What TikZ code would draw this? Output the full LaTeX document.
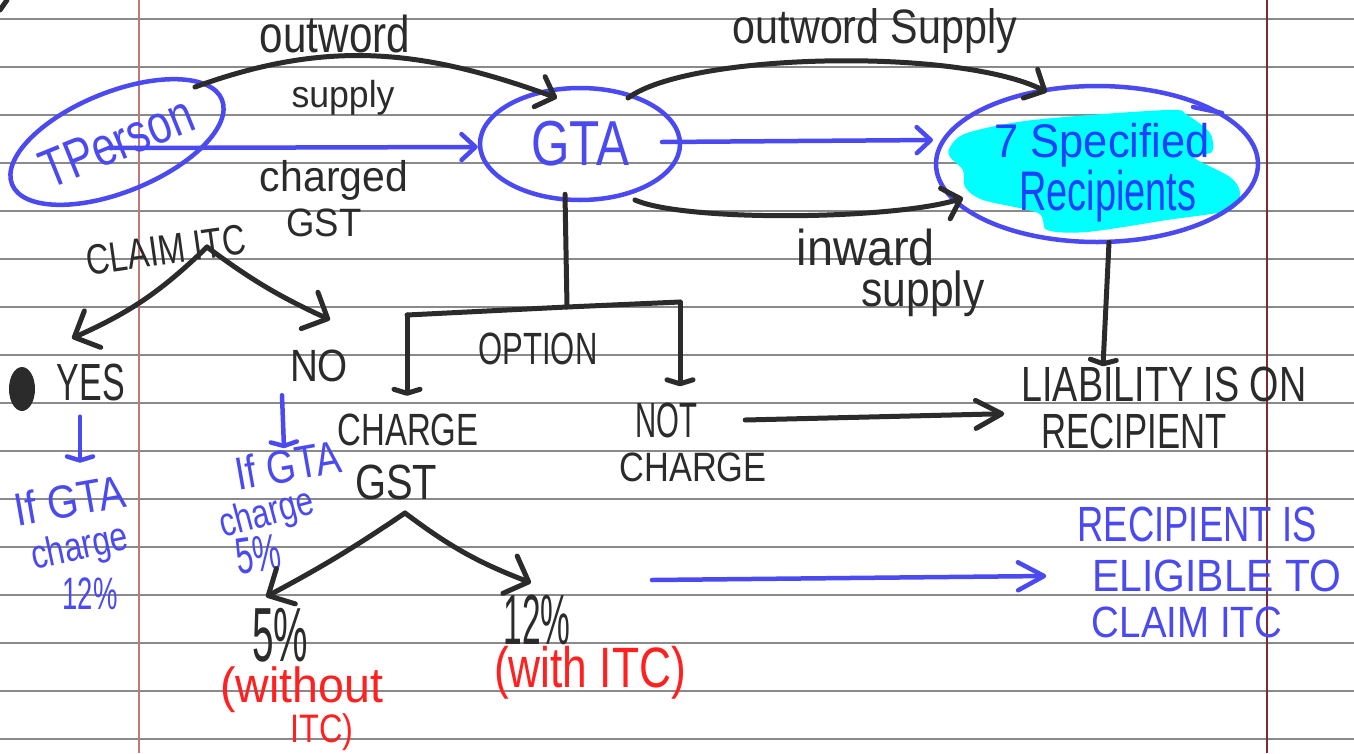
\documentclass[tikz,border=0pt]{standalone}
\usepackage{fontspec}
\setmainfont{Liberation Sans}
\usetikzlibrary{arrows.meta,shapes.geometric,calc}
\definecolor{ink}{HTML}{2B2B2B}
\definecolor{pen}{HTML}{4A4AF0}
\definecolor{deep}{HTML}{1E40FF}
\definecolor{redink}{HTML}{FF2020}
\definecolor{hl}{HTML}{00FFFF}
\definecolor{rulegray}{HTML}{8A8A8A}
\definecolor{marginL}{HTML}{C07878}
\definecolor{marginR}{HTML}{7A2E2E}
% text box stretched to a given width and total height (in pt)
\newcommand{\hw}[3]{\resizebox*{#1pt}{#2pt}{#3}}
\tikzset{
  stroke/.style={line width=5pt, line cap=round, line join=round},
  inkline/.style={stroke, draw=ink},
  penline/.style={stroke, draw=pen, line width=4.5pt},
  barb/.style={-{Straight Barb[round,length=16pt,width=32pt]}},
  bbarb/.style={-{Straight Barb[round,length=14pt,width=26pt]}},
  lbarb/.style={-{Straight Barb[round,length=26pt,width=28pt]}},
  chev/.style={-{Straight Barb[round,length=20pt,width=40pt]}},
  tick/.style={-{Straight Barb[round,length=4pt,width=26pt]}},
  txt/.style={inner sep=0pt, text=ink},
  btxt/.style={inner sep=0pt, text=pen},
  dtxt/.style={inner sep=0pt, text=deep},
  rtxt/.style={inner sep=0pt, text=redink},
  bubble/.style={ellipse, draw=pen, line width=4.5pt, inner sep=0pt}
}
\begin{document}
\begin{tikzpicture}[x=1pt,y=-1pt]
\useasboundingbox (0,0) rectangle (1354,753);
% ruled paper
\fill[white] (0,0) rectangle (1354,753);
\foreach \yy in {19,67,...,739} \draw[rulegray, line width=1.6pt] (0,\yy) -- (1354,\yy);
\draw[marginL, line width=1.5pt] (139,0) -- (139,753);
\draw[marginR, line width=1.8pt] (1267,0) -- (1267,753);
\draw[inkline] (0,10) -- (7,0);

% highlighter behind the recipients
\fill[hl] plot[smooth cycle, tension=0.5] coordinates {
  (950,147) (967,133) (1033,120) (1167,110) (1187,115) (1210,133) (1212,152)
  (1193,157) (1230,177) (1240,193) (1230,210) (1167,220) (1087,232) (1047,230)
  (1038,213) (983,200) (965,187) (963,170) (950,157)};

% main parties
\node[bubble, rotate=22, minimum width=224pt, minimum height=100pt, text=pen] (tp) at (117,142) {\hw{160}{38}{TPerson}};
\node[bubble, minimum width=200pt, minimum height=112pt, text=pen] (gta) at (580,144) {\hw{98}{45}{GTA}};
\node[bubble, minimum width=322pt, minimum height=156pt] (rec) at (1097,164) {};
\draw[penline] (1193,107) -- (1222,113);
\node[dtxt] (recA) at (1102,145) {\hw{215}{44}{7 Specified}};
\node[dtxt] (recB) at (1108,196) {\hw{177}{52}{Recipients}};

% black labels
\node[txt] (outA) at (335,34) {\hw{150}{38}{outword}};
\node[txt] (supA) at (343,98) {\hw{103}{35}{supply}};
\node[txt] (chgd) at (334,180) {\hw{148}{40}{charged}};
\node[txt] (gstA) at (324,223) {\hw{75}{28}{GST}};
\node[txt, rotate=8] (claim) at (166,250) {\hw{160}{30}{CLAIM ITC}};
\node[txt] (yes) at (91,382) {\hw{68}{37}{YES}};
\node[txt] (no) at (319,366) {\hw{58}{32}{NO}};
\node[txt] (chargeL) at (408,430) {\hw{141}{32}{CHARGE}};
\node[txt] (gstC) at (396,482) {\hw{82}{35}{GST}};
\node[txt] (opt) at (538,349) {\hw{119}{32}{OPTION}};
\node[txt] (notn) at (666,420) {\hw{62}{35}{NOT}};
\node[txt] (chargeR) at (693,467) {\hw{147}{29}{CHARGE}};
\node[txt] (liab) at (1164,384) {\hw{285}{35}{LIABILITY IS ON}};
\node[txt] (recp) at (1134,431) {\hw{185}{35}{RECIPIENT}};
\node[txt] (outB) at (875,31) {\hw{284}{45}{outword Supply}};
\node[txt] (inw) at (866,247) {\hw{138}{37}{inward}};
\node[txt] (supB) at (923,294) {\hw{123}{46}{supply}};
\node[txt] (five) at (280,635) {\hw{56}{54}{5\%}};
\node[txt] (twelve) at (537,620) {\hw{67}{50}{12\%}};

% blue notes
\node[btxt, rotate=10] (ifA) at (70,500) {\hw{112}{34}{If GTA}};
\node[btxt, rotate=12] (chA) at (80,549) {\hw{98}{38}{charge}};
\node[btxt] (pctA) at (90,594) {\hw{55}{32}{12\%}};
\node[btxt, rotate=10] (ifB) at (288,465) {\hw{106}{34}{If GTA}};
\node[btxt, rotate=15] (chB) at (267,515) {\hw{96}{38}{charge}};
\node[btxt, rotate=8] (pctB) at (258,554) {\hw{45}{36}{5\%}};
\node[btxt] (reIs) at (1197,524) {\hw{239}{35}{RECIPIENT IS}};
\node[btxt] (elig) at (1217,576) {\hw{249}{32}{ELIGIBLE TO}};
\node[btxt] (clm) at (1187,622) {\hw{190}{31}{CLAIM ITC}};

% red notes
\node[rtxt] (wo) at (302,690) {\hw{163}{46}{(without}};
\node[rtxt] (woi) at (322,732) {\hw{63}{37}{ITC)}};
\node[rtxt] (wi) at (590,673) {\hw{192}{53}{(with ITC)}};

% supplies between the parties
\draw[inkline, barb] ($(tp.center)+(78,-55)$) to[out=20,in=160] ($(gta.center)+(-23,-46)$);
\draw[penline, bbarb] ($(tp.center)+(-7,6)$) -- ($(gta.west)+(0,3)$);
\draw[inkline, barb] ($(gta.center)+(48,-46)$) .. controls +(60,-45) and +(-90,-45) .. ($(rec.center)+(-50,-72)$);
\draw[penline, bbarb] ($(gta.center)+(82,-2)$) -- ($(rec.center)+(-164,-24)$);
\draw[inkline, barb] ($(gta.center)+(55,56)$) .. controls +(50,22) and +(-70,22) .. ($(rec.center)+(-134,34)$);

% option bracket under GTA
\coordinate (jn) at (567,307);
\coordinate (brL) at (407,315);
\coordinate (brR) at (680,302);
\draw[inkline] ($(gta.south)+(-15,-8)$) -- (jn);
\draw[inkline] (brL) -- (jn) -- (brR);
\draw[inkline, tick] (brL) -- ($(chargeL.north)+(-1,-18)$);
\draw[inkline, tick] (brR) -- ($(brR |- notn.north)+(0,-16)$);

% liability
\draw[inkline, tick] ($(rec.south)+(12,-2)$) -- ($(liab.north)+(-61,0)$);
\draw[inkline, lbarb] ($(notn.east)+(48,0)$) -- ($(liab.south west)+(-17,12)$);

% ITC claim branches
\draw[inkline, chev] ($(claim.center)+(41,-3)$) to[bend left=10] ($(yes.north)+(-19,-25)$);
\draw[inkline, chev] ($(claim.center)+(41,-3)$) to[bend right=6] ($(no.north)+(11,-30)$);
\fill[ink] (22,389) ellipse (13 and 22);
\draw[penline, tick] ($(yes.south)+(-11,16)$) -- ++(0,46);
\draw[penline, tick] ($(no.south)+(-37,13)$) -- ++(2,53);

% rate branches
\draw[inkline, chev] ($(gstC.center)+(9,31)$) to[bend left=3] ($(five.north)+(-14,-11)$);
\draw[inkline, chev] ($(gstC.center)+(9,31)$) to[bend right=8] ($(twelve.north)+(-6,-12)$);
\coordinate (bstart) at (652,580);
\draw[penline, lbarb] (bstart) -- ($(elig.west)+(-46,0)$);
\end{tikzpicture}
\end{document}
